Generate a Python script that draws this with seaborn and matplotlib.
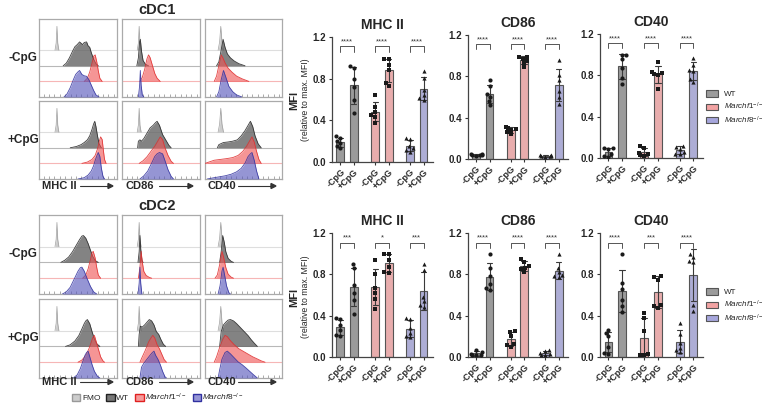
import numpy as np
import pandas as pd
import seaborn as sns
import matplotlib.pyplot as plt
from matplotlib.patches import Patch


sns.set_theme(style='ticks')
plt.rcParams['font.family'] = ['Liberation Sans', 'DejaVu Sans']
plt.rcParams['mathtext.fontset'] = 'custom'
plt.rcParams['mathtext.rm'] = 'Liberation Sans'
plt.rcParams['mathtext.it'] = 'Liberation Sans:italic'
plt.rcParams['mathtext.bf'] = 'Liberation Sans:bold'


# ---- data ----
markers = ['MHC II', 'CD86', 'CD40']
blocks = ['cDC1', 'cDC2']
conditions = ['-CpG', '+CpG']
genotypes = ['WT', 'Marchf1', 'Marchf8']

# histogram profiles: (fluorescence position %, height relative to mode)
fmo_mhcii = [(20.5, 0), (22, 0.3), (23, 1), (24, 0.3), (25.5, 0)]
fmo_cd86 = [(19.5, 0), (21, 0.3), (22, 1), (23, 0.3), (24.5, 0)]
fmo_cd40 = [(17, 0), (19, 0.35), (20.5, 1), (22, 0.35), (24, 0)]

cdc1_neg_mhcii = [
    [(31, 0), (35, 0.1), (39, 0.3), (43, 0.55), (46, 0.72), (49, 0.8), (52, 0.9), (54, 0.85), (56, 0.8), (58, 0.88), (61, 0.9), (63, 0.75), (65, 0.7), (67, 0.5), (70, 0.25), (73, 0.08), (76, 0)],
    [(58, 0), (62, 0.12), (65, 0.35), (68, 0.7), (70, 0.95), (72, 1), (74, 0.75), (76, 0.4), (78, 0.12), (81, 0)],
    [(32, 0), (36, 0.12), (40, 0.35), (44, 0.65), (47, 0.85), (50, 0.95), (52, 1), (55, 0.85), (58, 0.8), (61, 0.78), (64, 0.65), (67, 0.45), (70, 0.25), (73, 0.08), (77, 0)],
]
cdc1_neg_cd86 = [
    [(19, 0), (21, 0.3), (22.5, 0.9), (23.5, 1), (25, 0.55), (27, 0.2), (30, 0.06), (34, 0)],
    [(23, 0), (26, 0.15), (29, 0.45), (32, 0.85), (34, 1), (36, 0.9), (39, 0.6), (42, 0.3), (45, 0.12), (49, 0)],
    [(21, 0), (22.5, 0.4), (23.5, 1), (24.5, 0.45), (26, 0.08), (28, 0)],
]
cdc1_neg_cd40 = [
    [(15, 0), (18, 0.15), (21, 0.6), (23.5, 1), (26, 0.7), (29, 0.45), (33, 0.3), (38, 0.18), (44, 0.08), (52, 0)],
    [(12, 0), (15, 0.2), (18, 0.6), (21, 1), (23, 0.9), (26, 0.7), (30, 0.5), (35, 0.35), (41, 0.2), (48, 0.1), (57, 0)],
    [(15, 0), (18, 0.2), (21, 0.65), (24, 1), (27, 0.75), (31, 0.4), (36, 0.2), (41, 0.08), (48, 0)],
]
cdc1_pos_mhcii = [
    [(40, 0), (48, 0.05), (54, 0.12), (58, 0.2), (62, 0.3), (65, 0.45), (68, 0.7), (70, 0.9), (71.5, 1), (73, 0.8), (75, 0.45), (77, 0.15), (80, 0)],
    [(55, 0), (62, 0.05), (68, 0.15), (72, 0.3), (75, 0.55), (77, 0.8), (79, 1), (81, 0.9), (82.5, 0.5), (84, 0.15), (86, 0)],
    [(50, 0), (58, 0.05), (63, 0.15), (67, 0.3), (70, 0.5), (72, 0.7), (74.5, 0.9), (76, 1), (78, 0.85), (80, 0.4), (82, 0.1), (84, 0)],
]
cdc1_pos_cd86 = [
    [(20, 0), (21, 0.25), (23, 0.3), (25, 0.25), (28, 0.35), (32, 0.55), (36, 0.75), (40, 0.85), (43, 0.95), (45, 1), (48, 0.85), (52, 0.5), (56, 0.3), (60, 0.1), (63, 0)],
    [(22, 0), (27, 0.1), (32, 0.25), (37, 0.45), (42, 0.65), (46, 0.85), (49, 1), (52, 0.9), (55, 0.6), (59, 0.3), (63, 0.08), (66, 0)],
    [(23, 0), (28, 0.12), (33, 0.3), (38, 0.6), (42, 0.85), (45, 0.95), (48, 1), (52, 0.95), (55, 0.7), (59, 0.35), (63, 0.1), (66, 0)],
]
cdc1_pos_cd40 = [
    [(16, 0), (18, 0.12), (24, 0.2), (30, 0.22), (36, 0.25), (42, 0.3), (47, 0.45), (52, 0.65), (56, 0.85), (59, 1), (62, 0.8), (65, 0.45), (69, 0.15), (73, 0)],
    [(0, 0), (5, 0.05), (12, 0.12), (20, 0.15), (28, 0.18), (36, 0.22), (43, 0.3), (49, 0.45), (54, 0.65), (58, 0.85), (61, 1), (64, 0.8), (67, 0.45), (70, 0.15), (73, 0)],
    [(3, 0), (10, 0.04), (18, 0.08), (26, 0.12), (34, 0.18), (41, 0.27), (47, 0.4), (52, 0.6), (56, 0.85), (59, 0.95), (61, 1), (64, 0.7), (67, 0.3), (70, 0)],
]
cdc2_neg_mhcii = [
    [(28, 0), (33, 0.08), (38, 0.2), (43, 0.4), (48, 0.65), (52, 0.85), (55, 0.98), (57, 1), (60, 0.9), (63, 0.7), (66, 0.45), (69, 0.22), (72, 0.07), (76, 0)],
    [(56, 0), (60, 0.12), (63, 0.35), (66, 0.7), (68, 0.95), (69.5, 1), (72, 0.75), (74, 0.4), (76, 0.12), (79, 0)],
    [(30, 0), (35, 0.08), (40, 0.25), (45, 0.55), (50, 0.85), (53, 0.98), (55, 1), (58, 0.85), (62, 0.55), (66, 0.28), (70, 0.08), (74, 0)],
]
cdc2_neg_cd86 = [
    [(20.5, 0), (22, 0.4), (23, 1), (24, 0.5), (25.5, 0.08), (27, 0)],
    [(21, 0), (23, 0.4), (24.5, 1), (26, 0.6), (28, 0.25), (31, 0.1), (35, 0.03), (38, 0)],
    [(20.5, 0), (22, 0.4), (23, 1), (24, 0.4), (25.5, 0)],
]
cdc2_neg_cd40 = [
    [(19, 0), (21, 0.4), (23, 1), (25, 0.75), (27, 0.4), (30, 0.15), (34, 0.04), (37, 0)],
    [(13, 0), (16, 0.12), (19, 0.5), (22, 1), (24, 0.8), (27, 0.4), (30, 0.15), (34, 0.04), (37, 0)],
    [(17, 0), (19.5, 0.3), (22, 0.85), (23.5, 1), (25.5, 0.7), (28, 0.3), (31, 0.05), (33, 0)],
]
cdc2_pos_mhcii = [
    [(34, 0), (40, 0.06), (46, 0.2), (51, 0.4), (55, 0.65), (58, 0.85), (60, 0.95), (62, 1), (65, 0.85), (68, 0.55), (71, 0.28), (74, 0.1), (78, 0)],
    [(50, 0), (55, 0.08), (60, 0.25), (64, 0.5), (67, 0.75), (69, 0.92), (71, 1), (73, 0.8), (76, 0.5), (79, 0.2), (82, 0.05), (84, 0)],
    [(44, 0), (49, 0.12), (53, 0.35), (56, 0.6), (59, 0.85), (61, 0.95), (63, 1), (65, 0.8), (68, 0.5), (71, 0.25), (75, 0.06), (78, 0)],
]
cdc2_pos_cd86 = [
    [(21, 0), (22, 0.45), (23.5, 0.75), (26, 0.72), (29, 0.8), (32, 0.9), (35, 1), (38, 0.95), (41, 0.8), (44, 0.55), (47, 0.45), (50, 0.25), (53, 0.08), (56, 0)],
    [(23, 0), (26, 0.2), (30, 0.45), (34, 0.75), (37, 0.9), (39.5, 1), (42, 0.9), (45, 0.65), (48, 0.5), (51, 0.3), (54, 0.1), (57, 0)],
    [(23, 0), (25, 0.4), (28, 0.55), (32, 0.7), (36, 0.85), (39, 0.95), (41, 1), (43, 0.85), (46, 0.7), (49, 0.5), (52, 0.25), (55, 0.05), (57, 0)],
]
cdc2_pos_cd40 = [
    [(19, 0), (21, 0.55), (24, 0.8), (27, 0.9), (30, 0.98), (33, 1), (37, 0.95), (41, 0.85), (46, 0.7), (51, 0.55), (56, 0.4), (60, 0.25), (64, 0.12), (68, 0)],
    [(12, 0), (15, 0.2), (19, 0.55), (23, 0.85), (26, 1), (29, 0.95), (33, 0.8), (38, 0.65), (44, 0.5), (50, 0.4), (56, 0.3), (62, 0.2), (68, 0.12), (73, 0.05), (78, 0)],
    [(17, 0), (19, 0.3), (22, 0.7), (26, 0.95), (29, 1), (33, 0.9), (38, 0.75), (43, 0.6), (48, 0.5), (53, 0.38), (58, 0.25), (63, 0.12), (68, 0)],
]

# MFI (relative to max. MFI), order: WT -/+, Marchf1 -/+, Marchf8 -/+
cdc1_mhcii = [[0.245, 0.23, 0.2, 0.18, 0.15, 0.13], [0.92, 0.9, 0.8, 0.72, 0.6, 0.47],
              [0.64, 0.53, 0.48, 0.45, 0.43, 0.37], [0.99, 0.99, 0.93, 0.88, 0.76, 0.73],
              [0.23, 0.22, 0.15, 0.13, 0.12, 0.10], [0.875, 0.81, 0.69, 0.64, 0.61, 0.6]]
cdc1_cd86 = [[0.05, 0.045, 0.04, 0.04, 0.035, 0.03], [0.76, 0.71, 0.63, 0.6, 0.56, 0.52],
             [0.31, 0.3, 0.29, 0.28, 0.26, 0.24], [0.99, 0.99, 0.97, 0.95, 0.93, 0.89],
             [0.04, 0.035, 0.03, 0.03, 0.025, 0.02], [0.955, 0.81, 0.76, 0.66, 0.6, 0.53]]
cdc1_cd40 = [[0.1, 0.1, 0.09, 0.04, 0.02, 0.01], [1.0, 1.0, 0.96, 0.87, 0.77, 0.72],
             [0.12, 0.1, 0.05, 0.03, 0.02, 0.04], [0.93, 0.83, 0.82, 0.81, 0.8, 0.67],
             [0.12, 0.11, 0.09, 0.06, 0.04, 0.04], [0.97, 0.9, 0.85, 0.84, 0.76, 0.74]]
cdc2_mhcii = [[0.375, 0.365, 0.31, 0.26, 0.215, 0.205], [0.9, 0.86, 0.7, 0.62, 0.55, 0.42],
              [0.94, 0.8, 0.67, 0.62, 0.56, 0.46], [1.0, 1.0, 0.94, 0.87, 0.82, 0.81],
              [0.375, 0.366, 0.28, 0.23, 0.2, 0.19], [0.9, 0.84, 0.58, 0.54, 0.5, 0.48]]
cdc2_cd86 = [[0.07, 0.05, 0.03, 0.02, 0.02, 0.02], [1.0, 0.86, 0.78, 0.71, 0.67, 0.65],
             [0.25, 0.24, 0.2, 0.12, 0.1, 0.13], [0.95, 0.92, 0.88, 0.86, 0.85, 0.82],
             [0.07, 0.06, 0.04, 0.03, 0.02, 0.02], [1.0, 0.86, 0.82, 0.79, 0.78, 0.77]]
cdc2_cd40 = [[0.26, 0.23, 0.2, 0.1, 0.04, 0.03], [1.0, 0.72, 0.66, 0.55, 0.49, 0.44],
             [0.43, 0.38, 0.25, 0.03, 0.02, 0.02], [0.78, 0.77, 0.75, 0.5, 0.49, 0.47],
             [0.33, 0.22, 0.14, 0.09, 0.07, 0.05], [1.0, 0.97, 0.93, 0.92, 0.5, 0.45]]

sig_cdc1 = [['****', '****', '****'], ['****', '****', '****'], ['****', '****', '****']]
sig_cdc2 = [['***', '*', '***'], ['****', '****', '****'], ['****', '***', '****']]


# ---- styling / layout ----
W, H = 767, 404
hist_fill = ['#5a5a5a', '#ef5555', '#5555bb']
hist_edge = ['#2a2a2a', '#e03030', '#3535a0']
bar_colors = {'WT': '#9b9b9b', 'Marchf1': '#f2a3a3', 'Marchf8': '#a6a6dc'}
point_marker = {'WT': 'o', 'Marchf1': 's', 'Marchf8': '^'}
bar_pos = [0, 1, 2.6, 3.6, 5.2, 6.2]
PEAK = 0.34


def box(l, t, r, b):
    return [l / W, 1 - b / H, (r - l) / W, (b - t) / H]


fig = plt.figure(figsize=(W / 100, H / 100), dpi=100)

# ---- histograms ----
hist_cols = [(39, 117), (122, 200), (205, 282)]
hist_rows = {('cDC1', '-CpG'): (19, 97), ('cDC1', '+CpG'): (101, 179),
             ('cDC2', '-CpG'): (215, 294), ('cDC2', '+CpG'): (299, 378)}
hist_data = {('cDC1', '-CpG'): [cdc1_neg_mhcii, cdc1_neg_cd86, cdc1_neg_cd40],
             ('cDC1', '+CpG'): [cdc1_pos_mhcii, cdc1_pos_cd86, cdc1_pos_cd40],
             ('cDC2', '-CpG'): [cdc2_neg_mhcii, cdc2_neg_cd86, cdc2_neg_cd40],
             ('cDC2', '+CpG'): [cdc2_pos_mhcii, cdc2_pos_cd86, cdc2_pos_cd40]}
fmo_curves = [fmo_mhcii, fmo_cd86, fmo_cd40]


def draw_hist(ax, curves, fmo):
    for y0, c in zip([0.6, 0.4, 0.2], ['#dedede', '#b8b8b8', '#f6b6b6']):
        ax.axhline(y0, color=c, lw=0.8, zorder=0.5)
    xs = [p[0] for p in fmo]
    hs = [0.6 + 0.9 * PEAK * p[1] for p in fmo]
    ax.fill_between(xs, 0.6, hs, color='#cccccc', lw=0, zorder=1)
    ax.plot(xs, hs, color='#a0a0a0', lw=0.5, zorder=1)
    for k, (curve, base) in enumerate(zip(curves, [0.4, 0.2, 0.0])):
        xs = [p[0] for p in curve]
        hs = [base + PEAK * p[1] for p in curve]
        ax.fill_between(xs, base, hs, color=hist_fill[k], alpha=0.75 if k == 0 else 0.62, lw=0, zorder=2 + k)
        ax.plot(xs, hs, color=hist_edge[k], lw=0.6, alpha=0.9, zorder=2 + k)
    ax.set_xlim(0, 100)
    ax.set_ylim(0, 1)
    ax.set_yticks([])
    ax.set_xticks(np.linspace(6, 96, 14))
    ax.set_xticklabels([])
    ax.tick_params(axis='x', length=2, width=0.5, color='#888888', direction='in')
    for s in ax.spines.values():
        s.set_color('#aaaaaa')
        s.set_linewidth(0.9)


for (blk, cond), (t, b) in hist_rows.items():
    for j, (l, r) in enumerate(hist_cols):
        ax = fig.add_axes(box(l, t, r, b))
        draw_hist(ax, hist_data[(blk, cond)][j], fmo_curves[j])

for blk, ty in zip(blocks, [10, 206]):
    fig.text(157 / W, 1 - ty / H, blk, ha='center', va='center', fontsize=10.5, weight='bold')
for (blk, cond), (t, b) in hist_rows.items():
    fig.text(23 / W, 1 - (t + b) / 2 / H, cond, ha='center', va='center', fontsize=8.5, weight='bold')

# axis labels with arrows under the histogram grids
label_spans = [(42, 80, 113), (125, 159, 193), (208, 238, 276)]
for ly in [186, 382]:
    for name, (tx, a0, a1) in zip(markers, label_spans):
        fig.text(tx / W, 1 - ly / H, name, ha='left', va='center', fontsize=8, weight='bold')
        fig.add_artist(plt.Line2D([a0 / W, (a1 - 3) / W], [1 - ly / H] * 2, color='#333333', lw=0.8))
        fig.patches.append(plt.Polygon([[a1 / W, 1 - ly / H], [(a1 - 5) / W, 1 - (ly - 2.5) / H],
                                        [(a1 - 5) / W, 1 - (ly + 2.5) / H]], closed=True,
                                       transform=fig.transFigure, color='#333333'))

hist_handles = [Patch(facecolor='#cccccc', edgecolor='#999999'),
                Patch(facecolor='#777777', edgecolor='#222222'),
                Patch(facecolor='#f59a9a', edgecolor='#e02020'),
                Patch(facecolor='#9696d6', edgecolor='#3030a0')]
hist_labels = ['FMO', 'WT', r'$\mathit{Marchf1}^{-/-}$', r'$\mathit{Marchf8}^{-/-}$']
fig.legend(hist_handles, hist_labels, loc='center', bbox_to_anchor=(158 / W, 1 - 397 / H), ncol=4,
           frameon=False, fontsize=6, handlelength=1.0, handleheight=1.0, handletextpad=0.2,
           columnspacing=0.7, borderpad=0, borderaxespad=0)


# ---- bar charts ----
bar_boxes = {
    'cDC1': [(332, 37, 433, 162), (468, 35, 568, 159), (600, 34, 703, 158)],
    'cDC2': [(332, 233, 433, 357), (468, 233, 568, 357), (600, 233, 703, 357)],
}
bar_data = {'cDC1': [cdc1_mhcii, cdc1_cd86, cdc1_cd40], 'cDC2': [cdc2_mhcii, cdc2_cd86, cdc2_cd40]}
sig_data = {'cDC1': sig_cdc1, 'cDC2': sig_cdc2}

for blk in blocks:
    for j, name in enumerate(markers):
        ax = fig.add_axes(box(*bar_boxes[blk][j]))
        rows = []
        for i, vals in enumerate(bar_data[blk][j]):
            for v in vals:
                rows.append({'pos': bar_pos[i], 'val': v, 'geno': genotypes[i // 2]})
        df = pd.DataFrame(rows)
        sns.barplot(data=df, x='pos', y='val', hue='geno', palette=bar_colors, native_scale=True,
                    dodge=False, width=0.58, errorbar='sd', capsize=0.4, edgecolor='#555555',
                    linewidth=0.8, err_kws={'color': '#3a3a3a', 'linewidth': 0.8}, legend=False, ax=ax)
        for g in genotypes:
            sns.swarmplot(data=df[df['geno'] == g], x='pos', y='val', native_scale=True,
                          marker=point_marker[g], color='#1a1a1a', size=3.0, ax=ax)
        for k, star in enumerate(sig_data[blk][j]):
            x0, x1 = bar_pos[2 * k], bar_pos[2 * k + 1]
            yb = 1.11 if blk == 'cDC1' else 1.105
            ax.plot([x0, x0, x1, x1], [yb - 0.05, yb, yb, yb - 0.05], color='#555555', lw=0.7, clip_on=False)
            ax.text((x0 + x1) / 2, yb + 0.012, star, ha='center', va='bottom', fontsize=5.5, color='#333333')
        ax.set_xlim(-0.62, 6.9)
        ax.set_ylim(0, 1.2)
        ax.set_yticks([0, 0.4, 0.8, 1.2])
        ax.set_yticklabels(['0.0', '0.4', '0.8', '1.2'], fontsize=7, weight='bold')
        ax.set_xticks(bar_pos)
        ax.set_xticklabels(conditions * 3, rotation=45, ha='right', rotation_mode='anchor',
                           fontsize=6.5, weight='bold')
        ax.set_xlabel('')
        ax.set_ylabel('')
        ax.set_title(name, fontsize=10, weight='bold', pad=6)
        ax.tick_params(axis='both', length=2.5, width=0.8, color='#333333', pad=1.5)
        ax.set_facecolor('none')
        sns.despine(ax=ax)
        for s in ['left', 'bottom']:
            ax.spines[s].set_color('#444444')
            ax.spines[s].set_linewidth(0.9)

for cy in [100, 297]:
    fig.text(294 / W, 1 - cy / H, 'MFI', rotation=90, ha='center', va='center', fontsize=8, weight='bold')
    fig.text(305 / W, 1 - cy / H, '(relative to max. MFI)', rotation=90, ha='center', va='center', fontsize=6.3)

bar_handles = [Patch(facecolor=bar_colors[g], edgecolor='#555555', linewidth=0.8) for g in genotypes]
bar_labels = ['WT', r'$\mathit{Marchf1}^{-/-}$', r'$\mathit{Marchf8}^{-/-}$']
for ly in [108, 306]:
    fig.legend(bar_handles, bar_labels, loc='center left', bbox_to_anchor=(706 / W, 1 - ly / H),
               frameon=False, fontsize=5.8, handlelength=1.5, handleheight=0.8, handletextpad=0.7,
               labelspacing=0.3, borderpad=0, borderaxespad=0)

fig.savefig('out.png', dpi=100)
